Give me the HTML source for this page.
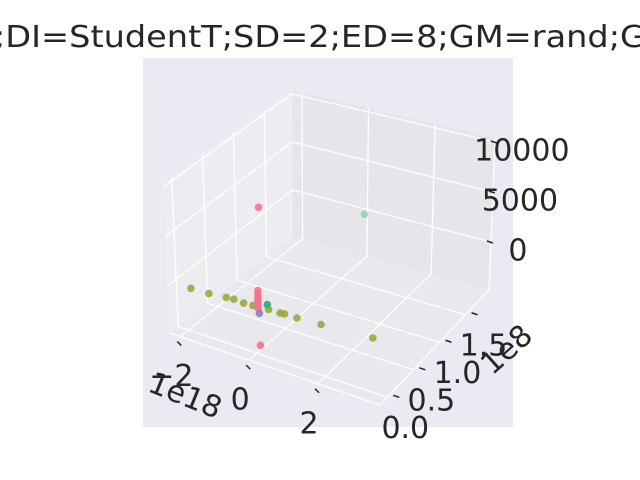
<!DOCTYPE html>
<html><head><meta charset="utf-8"><style>
html,body{margin:0;padding:0;background:#fff;}
svg{display:block;font-family:"DejaVu Sans","Liberation Sans",sans-serif;}
</style></head><body>
<svg id="chart" width="640" height="480" viewBox="0 0 640 480">
<text x="320" y="47" text-anchor="middle" font-size="30" fill="#262626" textLength="652" lengthAdjust="spacingAndGlyphs">;DI=StudentT;SD=2;ED=8;GM=rand;G</text>
<rect x="143" y="58" width="370" height="369" fill="#eaeaf2"/>
<g id="panes"></g><g id="grid"></g><g id="ticks"></g><g id="points"></g><g id="labels" font-size="30" fill="#262626"></g>
</svg>
<script>
const xVals=[-1.9,-1.4,-0.95,-0.75,-0.45,-0.2,0.22,0.55,0.66,1.02,1.68,3.1,0.0,-0.05,-0.05,-0.05,-0.05,-0.05,-0.05,-0.05,0.0,1.5,0.15,0.0];
const yVals=[0.01,0.02,0.05,0.06,0.05,0.06,0.08,0.08,0.09,0.09,0.11,0.16,0.06,0.06,0.06,0.06,0.06,0.06,0.06,0.06,0.06,1.0,0.1,0.05];
const zVals=[-500,-500,-500,-500,-500,-500,-500,-500,-500,-500,-500,-500,9700,1200,900,600,300,0,-300,-600,-4300,5800,-200,-1000];
const groups=[1,1,1,1,1,1,1,1,1,1,1,1,0,0,0,0,0,0,0,0,0,3,2,4];
const palette=["#f77189","#97a431","#36ad7a","#5fc49a","#8a7fc0"];
const alphas=[0.9,0.85,0.95,0.55,0.9];
const xTicks=[-2,0,2];
const xTickLabels=["\u22122","0","2"];
const yTicks=[0,0.5,1.0,1.5];
const yTickLabels=["0.0","0.5","1.0","1.5"];
const zTicks=[0,5000,10000];
const zTickLabels=["0","5000","10000"];
const xr=[-2.3,3.8], yr=[-0.14,1.95], zr=[-4800,10400];
const botC={A:[170,333],B:[293,236],C:[489,290],D:[380,405]};
const topC={A:[163,183],B:[292,90],C:[495,138],D:[385,255]};
function bil(c,u,v){
  return [0,1].map(i=>c.A[i]*(1-u)*(1-v)+c.D[i]*u*(1-v)+c.C[i]*u*v+c.B[i]*(1-u)*v);}
function proj(x,y,z){
  const u=(x-xr[0])/(xr[1]-xr[0]), v=(y-yr[0])/(yr[1]-yr[0]), w=(z-zr[0])/(zr[1]-zr[0]);
  const b=bil(botC,u,v), t=bil(topC,u,v);
  return [b[0]+(t[0]-b[0])*w, b[1]+(t[1]-b[1])*w];}
const NS="http://www.w3.org/2000/svg";
function mk(tag,attrs,parent){const e=document.createElementNS(NS,tag);for(const k in attrs)e.setAttribute(k,attrs[k]);document.getElementById(parent).appendChild(e);return e;}
function poly(pts){return pts.map(p=>p.join(",")).join(" ");}
let e;
e=mk("polygon",{points:poly([proj(xr[0],yr[0],zr[0]),proj(xr[0],yr[1],zr[0]),proj(xr[0],yr[1],zr[1]),proj(xr[0],yr[0],zr[1])]),fill:"#ededf1"},"panes");


e=mk("polygon",{points:poly([proj(xr[0],yr[1],zr[0]),proj(xr[1],yr[1],zr[0]),proj(xr[1],yr[1],zr[1]),proj(xr[0],yr[1],zr[1])]),fill:"#e5e5ea"},"panes");


e=mk("polygon",{points:poly([proj(xr[0],yr[0],zr[0]),proj(xr[1],yr[0],zr[0]),proj(xr[1],yr[1],zr[0]),proj(xr[0],yr[1],zr[0])]),fill:"#e8e8ed"},"panes");


function line(p,q,parent,name,w,col){const l=mk("line",{x1:p[0],y1:p[1],x2:q[0],y2:q[1],stroke:col||"#fff","stroke-width":w||1.3},parent);return l;}
xTicks.forEach(t=>{line(proj(t,yr[0],zr[0]),proj(t,yr[1],zr[0]),"grid","x-grid-floor");line(proj(t,yr[1],zr[0]),proj(t,yr[1],zr[1]),"grid","x-grid-back");});
yTicks.forEach(t=>{line(proj(xr[0],t,zr[0]),proj(xr[1],t,zr[0]),"grid","y-grid-floor");line(proj(xr[0],t,zr[0]),proj(xr[0],t,zr[1]),"grid","y-grid-left");});
zTicks.forEach(t=>{line(proj(xr[0],yr[0],t),proj(xr[0],yr[1],t),"grid","z-grid-left");line(proj(xr[0],yr[1],t),proj(xr[1],yr[1],t),"grid","z-grid-back");});
line(proj(xr[0],yr[0],zr[0]),proj(xr[1],yr[0],zr[0]),"grid","x-axis-line");
line(proj(xr[1],yr[0],zr[0]),proj(xr[1],yr[1],zr[0]),"grid","y-axis-line");
line(proj(xr[1],yr[1],zr[0]),proj(xr[1],yr[1],zr[1]),"grid","z-axis-line");
function label(txt,x,y,name,rot){const t=mk("text",{x:x,y:y,"text-anchor":"middle","dominant-baseline":"central"},"labels");if(rot)t.setAttribute("transform",`rotate(${rot} ${x} ${y})`);t.textContent=txt;}
xTicks.forEach((t,i)=>{const p=proj(t,yr[0],zr[0]);line([p[0]-3,p[1]+5],[p[0]+1,p[1]+9],"ticks","x-tick",1.5,"#262626");label(xTickLabels[i],p[0]-9,p[1]+40,"x-tick-label");});
yTicks.forEach((t,i)=>{const p=proj(xr[1],t,zr[0]);line([p[0]+6,p[1]-2],[p[0]+12,p[1]],"ticks","y-tick",1.5,"#262626");label(yTickLabels[i],p[0]+18,p[1]+31,"y-tick-label");});
zTicks.forEach((t,i)=>{const p=proj(xr[1],yr[1],t);line([p[0]-4,p[1]-1],[p[0]+2,p[1]+1],"ticks","z-tick",1.5,"#262626");label(zTickLabels[i],p[0]+27,p[1]+9,"z-tick-label");});
label("1e18",185,396,"x-offset-label",22);
label("1e8",507,350,"y-offset-label",-42);
xVals.forEach((x,i)=>{const p=proj(x,yVals[i],zVals[i]);const c=mk("circle",{cx:p[0].toFixed(1),cy:p[1].toFixed(1),r:3.8,fill:palette[groups[i]],"fill-opacity":alphas[groups[i]]},"points");

});
</script>
</body></html>
